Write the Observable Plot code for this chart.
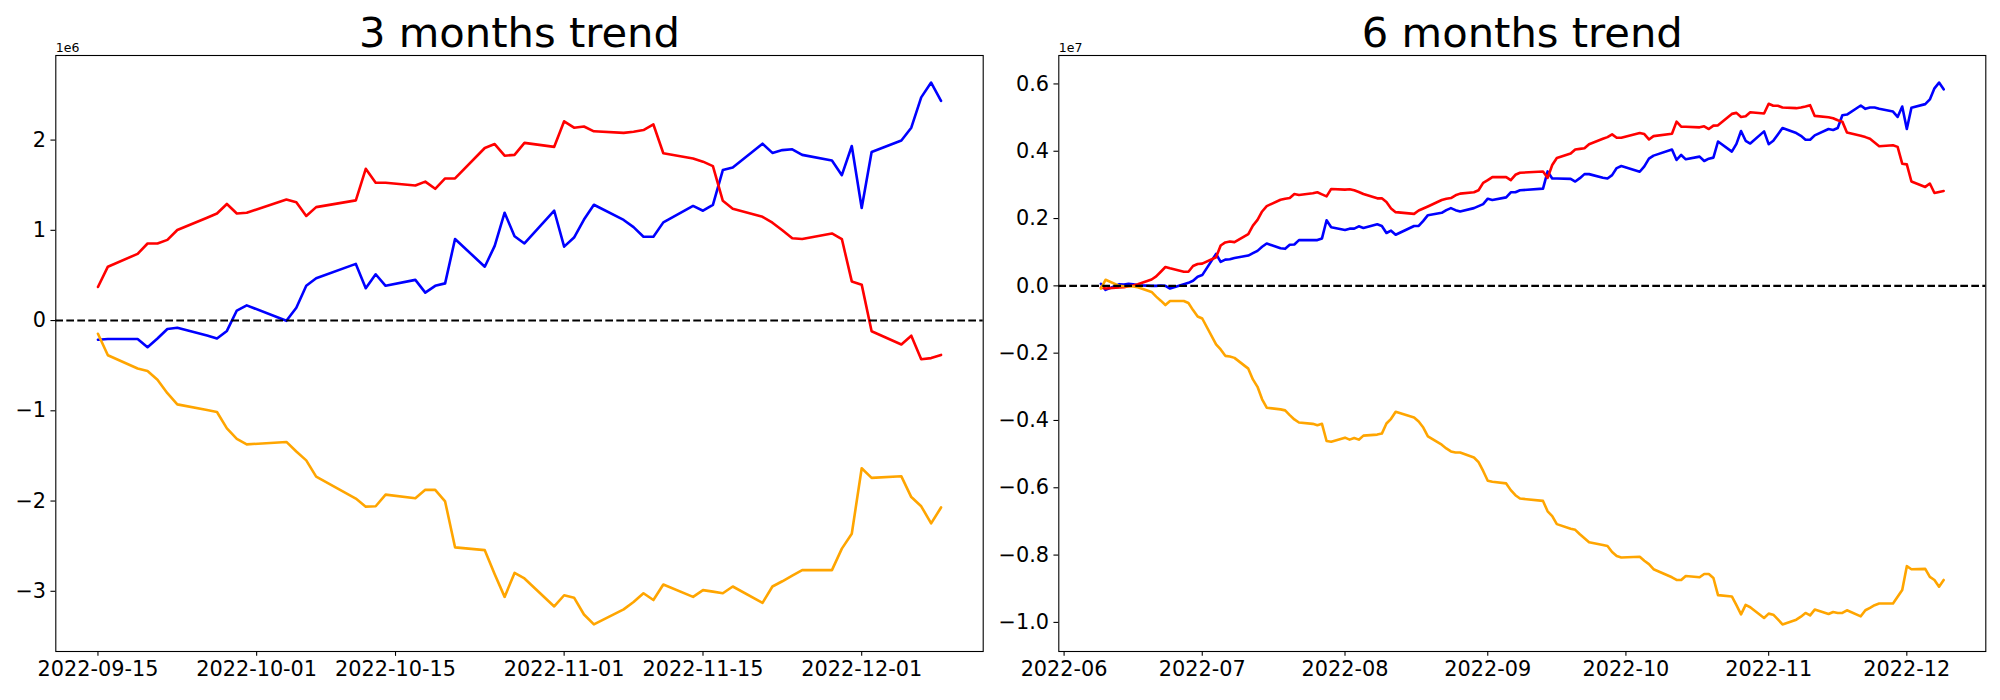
<!DOCTYPE html>
<html><head><meta charset="utf-8">
<script src="https://cdn.jsdelivr.net/npm/d3@7"></script>
<script src="https://cdn.jsdelivr.net/npm/@observablehq/plot@0.6"></script>
<style>
body{margin:0;background:#fff;}
#wrap{position:relative;width:2000px;height:700px;background:#fff;overflow:hidden;}
#p1,#p2{position:absolute;top:0;}
#p1{left:0}#p2{left:1000px}
</style></head><body>
<div id="wrap"><div id="p1"></div><div id="p2"></div></div>
<script>
// ---------- 3 months trend (values in units of 1e6) ----------
const dates3m = ["2022-09-15","2022-09-16","2022-09-19","2022-09-20","2022-09-21","2022-09-22","2022-09-23","2022-09-26","2022-09-27","2022-09-28","2022-09-29","2022-09-30",
"2022-10-04","2022-10-05","2022-10-06","2022-10-07","2022-10-11","2022-10-12","2022-10-13","2022-10-14","2022-10-17","2022-10-18","2022-10-19","2022-10-20","2022-10-21","2022-10-24","2022-10-25","2022-10-26","2022-10-27","2022-10-28","2022-10-31",
"2022-11-01","2022-11-02","2022-11-03","2022-11-04","2022-11-07","2022-11-08","2022-11-09","2022-11-10","2022-11-11","2022-11-14","2022-11-15","2022-11-16","2022-11-17","2022-11-18","2022-11-21","2022-11-22","2022-11-23","2022-11-24","2022-11-25","2022-11-28","2022-11-29","2022-11-30",
"2022-12-01","2022-12-02","2022-12-05","2022-12-06","2022-12-07","2022-12-08","2022-12-09"];
const red3m = [0.372,0.597,0.739,0.854,0.854,0.894,1.004,1.14,1.186,1.292,1.186,1.195,
1.341,1.310,1.159,1.257,1.332,1.681,1.527,1.527,1.496,1.540,1.460,1.575,1.575,1.912,1.956,1.827,1.836,1.969,1.925,
2.208,2.137,2.150,2.097,2.080,2.093,2.111,2.173,1.854,1.796,1.761,1.712,1.327,1.239,1.150,1.084,1.000,0.912,0.903,0.965,0.903,0.434,
0.398,-0.119,-0.265,-0.168,-0.429,-0.416,-0.381];
const blue3m = [-0.212,-0.204,-0.204,-0.296,-0.199,-0.093,-0.080,-0.166,-0.199,-0.115,0.111,0.168,
-0.003,0.142,0.385,0.469,0.628,0.358,0.513,0.385,0.451,0.310,0.385,0.412,0.903,0.597,0.827,1.195,0.934,0.854,1.217,
0.819,0.920,1.119,1.283,1.115,1.035,0.929,0.929,1.088,1.270,1.217,1.283,1.668,1.695,1.960,1.858,1.889,1.898,1.836,1.774,1.611,1.934,
1.248,1.867,1.996,2.137,2.473,2.637,2.434];
const orange3m = [-0.146,-0.385,-0.531,-0.558,-0.655,-0.805,-0.929,-0.991,-1.013,-1.195,-1.310,-1.372,
-1.345,-1.451,-1.549,-1.730,-1.973,-2.062,-2.058,-1.929,-1.969,-1.876,-1.876,-2.004,-2.513,-2.544,-2.810,-3.062,-2.796,-2.858,-3.168,
-3.044,-3.071,-3.257,-3.367,-3.200,-3.119,-3.022,-3.097,-2.925,-3.062,-2.987,-3.004,-3.022,-2.947,-3.128,-2.947,-2.889,-2.827,-2.765,-2.765,-2.527,-2.363,
-1.637,-1.743,-1.726,-1.956,-2.058,-2.248,-2.071];
const ticksX3m = ["2022-09-15","2022-10-01","2022-10-15","2022-11-01","2022-11-15","2022-12-01"];
const ticksY3m = [-3,-2,-1,0,1,2];

// ---------- 6 months trend (values in units of 1e7) ----------
const dates6m = ["2022-06-09","2022-06-10","2022-06-13","2022-06-14","2022-06-15","2022-06-16","2022-06-17","2022-06-20","2022-06-21","2022-06-22","2022-06-23","2022-06-24","2022-06-27","2022-06-28","2022-06-29","2022-06-30",
"2022-07-01","2022-07-04","2022-07-05","2022-07-06","2022-07-07","2022-07-08","2022-07-11","2022-07-12","2022-07-13","2022-07-14","2022-07-15","2022-07-18","2022-07-19","2022-07-20","2022-07-21","2022-07-22","2022-07-25","2022-07-26","2022-07-27","2022-07-28","2022-07-29",
"2022-08-01","2022-08-02","2022-08-03","2022-08-04","2022-08-05","2022-08-08","2022-08-09","2022-08-10","2022-08-11","2022-08-12","2022-08-16","2022-08-17","2022-08-18","2022-08-19","2022-08-22","2022-08-23","2022-08-24","2022-08-25","2022-08-26","2022-08-29","2022-08-30","2022-08-31",
"2022-09-01","2022-09-02","2022-09-05","2022-09-06","2022-09-07","2022-09-08","2022-09-13","2022-09-14","2022-09-15","2022-09-16","2022-09-19","2022-09-20","2022-09-21","2022-09-22","2022-09-23","2022-09-26","2022-09-27","2022-09-28","2022-09-29","2022-09-30",
"2022-10-04","2022-10-05","2022-10-06","2022-10-07","2022-10-11","2022-10-12","2022-10-13","2022-10-14","2022-10-17","2022-10-18","2022-10-19","2022-10-20","2022-10-21","2022-10-24","2022-10-25","2022-10-26","2022-10-27","2022-10-28","2022-10-31",
"2022-11-01","2022-11-02","2022-11-03","2022-11-04","2022-11-07","2022-11-08","2022-11-09","2022-11-10","2022-11-11","2022-11-14","2022-11-15","2022-11-16","2022-11-17","2022-11-18","2022-11-21","2022-11-22","2022-11-23","2022-11-24","2022-11-25","2022-11-28","2022-11-29","2022-11-30",
"2022-12-01","2022-12-02","2022-12-05","2022-12-06","2022-12-07","2022-12-08","2022-12-09"];
const red6m = [-0.005,-0.008,-0.005,-0.004,-0.001,0.001,0.005,0.019,0.028,0.042,0.056,0.052,0.042,0.042,0.059,0.065,
0.066,0.085,0.120,0.129,0.132,0.130,0.154,0.179,0.196,0.221,0.237,0.256,0.259,0.261,0.273,0.270,0.275,0.278,0.272,0.266,0.288,
0.286,0.287,0.284,0.279,0.273,0.260,0.260,0.249,0.230,0.219,0.214,0.224,0.230,0.236,0.255,0.259,0.261,0.269,0.274,0.278,0.284,0.306,
0.314,0.323,0.323,0.314,0.330,0.336,0.340,0.321,0.359,0.380,0.393,0.405,0.407,0.409,0.421,0.437,0.442,0.450,0.440,0.440,
0.454,0.451,0.435,0.445,0.452,0.488,0.473,0.473,0.471,0.474,0.466,0.476,0.477,0.511,0.514,0.502,0.504,0.516,0.512,
0.541,0.535,0.535,0.530,0.528,0.530,0.533,0.537,0.505,0.501,0.498,0.492,0.488,0.456,0.446,0.442,0.437,0.426,0.415,0.418,0.413,0.363,
0.361,0.310,0.294,0.304,0.276,0.279,0.282];
const blue6m = [0.006,-0.012,0.005,0.004,0.006,0.005,0.002,0.000,0.000,0.001,0.000,-0.008,0.005,0.009,0.015,0.027,
0.032,0.095,0.071,0.078,0.079,0.083,0.090,0.097,0.104,0.116,0.126,0.112,0.110,0.122,0.123,0.136,0.136,0.136,0.141,0.195,0.174,
0.166,0.170,0.170,0.177,0.172,0.183,0.178,0.157,0.164,0.152,0.178,0.178,0.193,0.210,0.217,0.225,0.231,0.225,0.221,0.231,0.237,0.243,
0.259,0.255,0.263,0.278,0.278,0.284,0.289,0.340,0.319,0.319,0.318,0.310,0.320,0.332,0.332,0.321,0.319,0.329,0.350,0.356,
0.339,0.355,0.378,0.387,0.405,0.374,0.389,0.376,0.384,0.371,0.378,0.381,0.429,0.399,0.422,0.460,0.431,0.423,0.459,
0.421,0.431,0.450,0.469,0.454,0.446,0.434,0.434,0.447,0.466,0.463,0.469,0.507,0.509,0.536,0.526,0.530,0.530,0.526,0.518,0.502,0.533,
0.466,0.529,0.540,0.554,0.587,0.604,0.584];
const orange6m = [-0.008,0.018,0.000,-0.001,-0.001,-0.002,-0.004,-0.018,-0.032,-0.044,-0.057,-0.045,-0.045,-0.051,-0.072,-0.091,
-0.097,-0.174,-0.189,-0.208,-0.210,-0.214,-0.246,-0.278,-0.300,-0.337,-0.362,-0.367,-0.370,-0.384,-0.397,-0.406,-0.410,-0.414,-0.410,-0.461,-0.463,
-0.451,-0.457,-0.452,-0.457,-0.445,-0.442,-0.439,-0.409,-0.395,-0.374,-0.391,-0.403,-0.421,-0.447,-0.472,-0.483,-0.492,-0.495,-0.495,-0.510,-0.524,-0.550,
-0.579,-0.582,-0.587,-0.607,-0.622,-0.632,-0.639,-0.670,-0.684,-0.708,-0.722,-0.725,-0.738,-0.750,-0.762,-0.770,-0.773,-0.791,-0.803,-0.807,
-0.805,-0.817,-0.827,-0.842,-0.866,-0.874,-0.874,-0.862,-0.866,-0.856,-0.856,-0.868,-0.919,-0.923,-0.949,-0.976,-0.948,-0.955,-0.987,
-0.974,-0.977,-0.991,-1.006,-0.992,-0.983,-0.972,-0.979,-0.962,-0.975,-0.969,-0.972,-0.972,-0.964,-0.982,-0.964,-0.957,-0.949,-0.944,-0.944,-0.924,-0.904,
-0.833,-0.842,-0.841,-0.865,-0.874,-0.894,-0.874];
const ticksX6m = ["2022-06-01","2022-07-01","2022-08-01","2022-09-01","2022-10-01","2022-11-01","2022-12-01"];
const ticksY6m = [-1.0,-0.8,-0.6,-0.4,-0.2,0.0,0.2,0.4,0.6];

const FONT = "DejaVu Sans";
const minus = s => s.replace("-", "\u2212");
const parseDate = s => new Date(s + "T00:00:00Z");

function makeChart(o) {
  const parsed = o.dates.map(parseDate);
  const t0 = parsed[0], t1 = parsed[parsed.length - 1];
  const padX = (t1 - t0) * 0.05;
  const all = o.series.flatMap(s => s.values);
  const [lo, hi] = d3.extent(all);
  const padY = (hi - lo) * 0.05;
  const marks = [];
  for (const s of o.series) {
    const data = parsed.map((d, i) => ({date: d, v: s.values[i]}));
    marks.push(Plot.line(data, {x: "date", y: "v", stroke: s.color, strokeWidth: 2.6, strokeLinejoin: "round"}));
  }
  marks.push(Plot.ruleY([0], {stroke: "black", strokeWidth: 2.08, strokeDasharray: "7.7,3.3"}));
  marks.push(Plot.frame({stroke: "black", strokeWidth: 1.1}));
  marks.push(Plot.axisX({ticks: o.ticksX.map(parseDate), tickFormat: d3.utcFormat(o.fmtX), tickSize: 4.86, tickPadding: 4.86, fontSize: 20.8, strokeWidth: 1.1, label: null}));
  marks.push(Plot.axisY({ticks: o.ticksY, tickFormat: o.fmtY, tickSize: 4.86, tickPadding: 4.86, fontSize: 20.8, strokeWidth: 1.1, label: null}));
  marks.push(Plot.text([o.title], {frameAnchor: "top", dy: -8.3, lineAnchor: "bottom", fontSize: 41.67, text: d => d, fill: "black"}));
  marks.push(Plot.text([o.offset], {frameAnchor: "top-left", textAnchor: "start", lineAnchor: "bottom", dy: -4, fontSize: 12.5, text: d => d, fill: "black"}));
  return Plot.plot({
    width: 1000, height: 700,
    marginLeft: o.marginLeft, marginRight: o.marginRight, marginTop: 55, marginBottom: 49,
    style: {fontFamily: FONT, fontSize: "20.8px", background: "white", color: "black"},
    x: {type: "utc", domain: [new Date(+t0 - padX), new Date(+t1 + padX)]},
    y: {domain: [lo - padY, hi + padY]},
    marks
  });
}

document.getElementById("p1").append(makeChart({
  dates: dates3m,
  series: [{values: blue3m, color: "blue"}, {values: red3m, color: "red"}, {values: orange3m, color: "orange"}],
  ticksX: ticksX3m, fmtX: "%Y-%m-%d",
  ticksY: ticksY3m, fmtY: d => minus(d3.format("d")(d)),
  title: "3 months trend", offset: "1e6",
  marginLeft: 55.3, marginRight: 17.3
}));
document.getElementById("p2").append(makeChart({
  dates: dates6m,
  series: [{values: blue6m, color: "blue"}, {values: red6m, color: "red"}, {values: orange6m, color: "orange"}],
  ticksX: ticksX6m, fmtX: "%Y-%m",
  ticksY: ticksY6m, fmtY: d => minus(d3.format(".1f")(d)),
  title: "6 months trend", offset: "1e7",
  marginLeft: 58.3, marginRight: 14.7
}));
</script>
</body></html>
